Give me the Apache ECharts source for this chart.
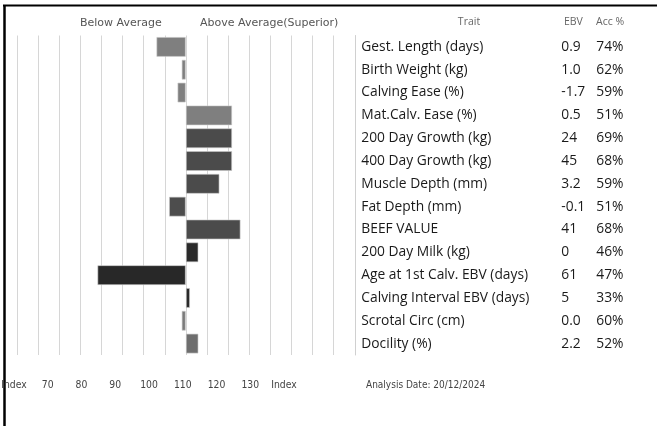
<!DOCTYPE html>
<html><head><meta charset="utf-8">
<script src="https://cdn.jsdelivr.net/npm/echarts@6/dist/echarts.min.js"></script>
<style>html,body{margin:0;padding:0;background:#fff}#c{width:657px;height:426px}</style>
</head><body><div id="c"></div>
<script>
const traits = ['Gest. Length (days)','Birth Weight (kg)','Calving Ease (%)','Mat.Calv. Ease (%)','200 Day Growth (kg)','400 Day Growth (kg)','Muscle Depth (mm)','Fat Depth (mm)','BEEF VALUE','200 Day Milk (kg)','Age at 1st Calv. EBV (days)','Calving Interval EBV (days)','Scrotal Circ (cm)','Docility (%)'];
const ebv = ['0.9','1.0','-1.7','0.5','24','45','3.2','-0.1','41','0','61','5','0.0','2.2'];
const acc = ['74%','62%','59%','51%','69%','68%','59%','51%','68%','46%','47%','33%','60%','52%'];
const indexValues = [93,99,98,111,111,111,108,96,113,103,79,101,99,103];
const bottomLabels = ['Index','70','80','90','100','110','120','130','Index'];
const barColors = ['#7f7f7f','#7f7f7f','#7f7f7f','#7f7f7f','#4b4b4b','#4b4b4b','#4b4b4b','#4d4d4d','#4b4b4b','#2a2a2a','#282828','#2a2a2a','#7b7b7b','#6e6e6e'];
const BASE = 100;

const tableFont = "'Open Sans', sans-serif";
const axisFont = "'DejaVu Sans', sans-serif";
const smallFont = "'DejaVu Sans Condensed', 'DejaVu Sans', sans-serif";

const chart = echarts.init(document.getElementById('c'), null, {renderer:'canvas'});
chart.setOption({
  animation: false,
  grid: [
    {left: 17.3, width: 316, top: 35.5, height: 319.5, outerBoundsMode: 'none'},
    {left: 14, width: 270, top: 371, height: 8, outerBoundsMode: 'none'}
  ],
  xAxis: [
    {type: 'value', gridIndex: 0, min: 60, max: 135, interval: 5,
     axisLine: {show: false}, axisTick: {show: false}, axisLabel: {show: false},
     splitLine: {show: true, lineStyle: {color: '#d6d6d6', width: 1}}},
    {type: 'category', gridIndex: 1, data: bottomLabels, boundaryGap: false,
     axisLine: {show: false}, axisTick: {show: false},
     axisLabel: {interval: 0, margin: 1, fontSize: 10.3, color: '#444', fontFamily: smallFont},
     splitLine: {show: false}}
  ],
  yAxis: [
    {type: 'category', gridIndex: 0, data: traits, inverse: true, position: 'right', offset: 22,
     axisLine: {show: true, lineStyle: {color: '#d0d0d0'}}, axisTick: {show: false},
     axisLabel: {align: 'left', margin: 6, fontSize: 13.8, color: '#1a1a1a', fontFamily: tableFont}},
    {type: 'category', gridIndex: 0, data: traits, inverse: true, position: 'right', offset: 0,
     axisLine: {show: false}, axisTick: {show: false},
     axisLabel: {align: 'left', margin: 228, fontSize: 13.8, color: '#1a1a1a', fontFamily: tableFont,
       formatter: (v, i) => ebv[i]}},
    {type: 'category', gridIndex: 0, data: traits, inverse: true, position: 'right', offset: 0,
     axisLine: {show: false}, axisTick: {show: false},
     axisLabel: {align: 'left', margin: 263, fontSize: 13.8, color: '#1a1a1a', fontFamily: tableFont,
       formatter: (v, i) => acc[i]}},
    {type: 'value', gridIndex: 1, show: false}
  ],
  series: [
    {type: 'bar', xAxisIndex: 0, yAxisIndex: 0, stack: 'idx', barWidth: 20, silent: true,
     itemStyle: {color: 'rgba(0,0,0,0)'},
     data: indexValues.map(v => Math.min(v, BASE))},
    {type: 'bar', xAxisIndex: 0, yAxisIndex: 0, stack: 'idx', barWidth: 20,
     data: indexValues.map((v, i) => ({value: Math.abs(v - BASE),
       itemStyle: {color: barColors[i], borderColor: 'rgba(200,200,200,0.6)', borderWidth: 1}}))}
  ],
  graphic: [
    {type: 'line', shape: {x1: 3, y1: 5.5, x2: 657, y2: 5.5}, style: {stroke: '#000', lineWidth: 2}},
    {type: 'line', shape: {x1: 4.5, y1: 5, x2: 4.5, y2: 426}, style: {stroke: '#000', lineWidth: 2.5}},
    {type: 'text', x: 80, y: 23, style: {text: 'Below Average', fontSize: 11, fill: '#555', fontFamily: axisFont, textVerticalAlign: 'middle'}},
    {type: 'text', x: 200, y: 23, style: {text: 'Above Average(Superior)', fontSize: 11, fill: '#555', fontFamily: axisFont, textVerticalAlign: 'middle'}},
    {type: 'text', x: 469, y: 22, style: {text: 'Trait', fontSize: 10.5, fill: '#666', fontFamily: tableFont, textAlign: 'center', textVerticalAlign: 'middle'}},
    {type: 'text', x: 564, y: 22, style: {text: 'EBV', fontSize: 10.5, fill: '#666', fontFamily: tableFont, textVerticalAlign: 'middle'}},
    {type: 'text', x: 596, y: 22, style: {text: 'Acc %', fontSize: 10.5, fill: '#666', fontFamily: tableFont, textVerticalAlign: 'middle'}},
    {type: 'text', x: 366, y: 385, style: {text: 'Analysis Date: 20/12/2024', fontSize: 10, fill: '#444', fontFamily: smallFont, textVerticalAlign: 'middle'}}
  ]
});
</script></body></html>
